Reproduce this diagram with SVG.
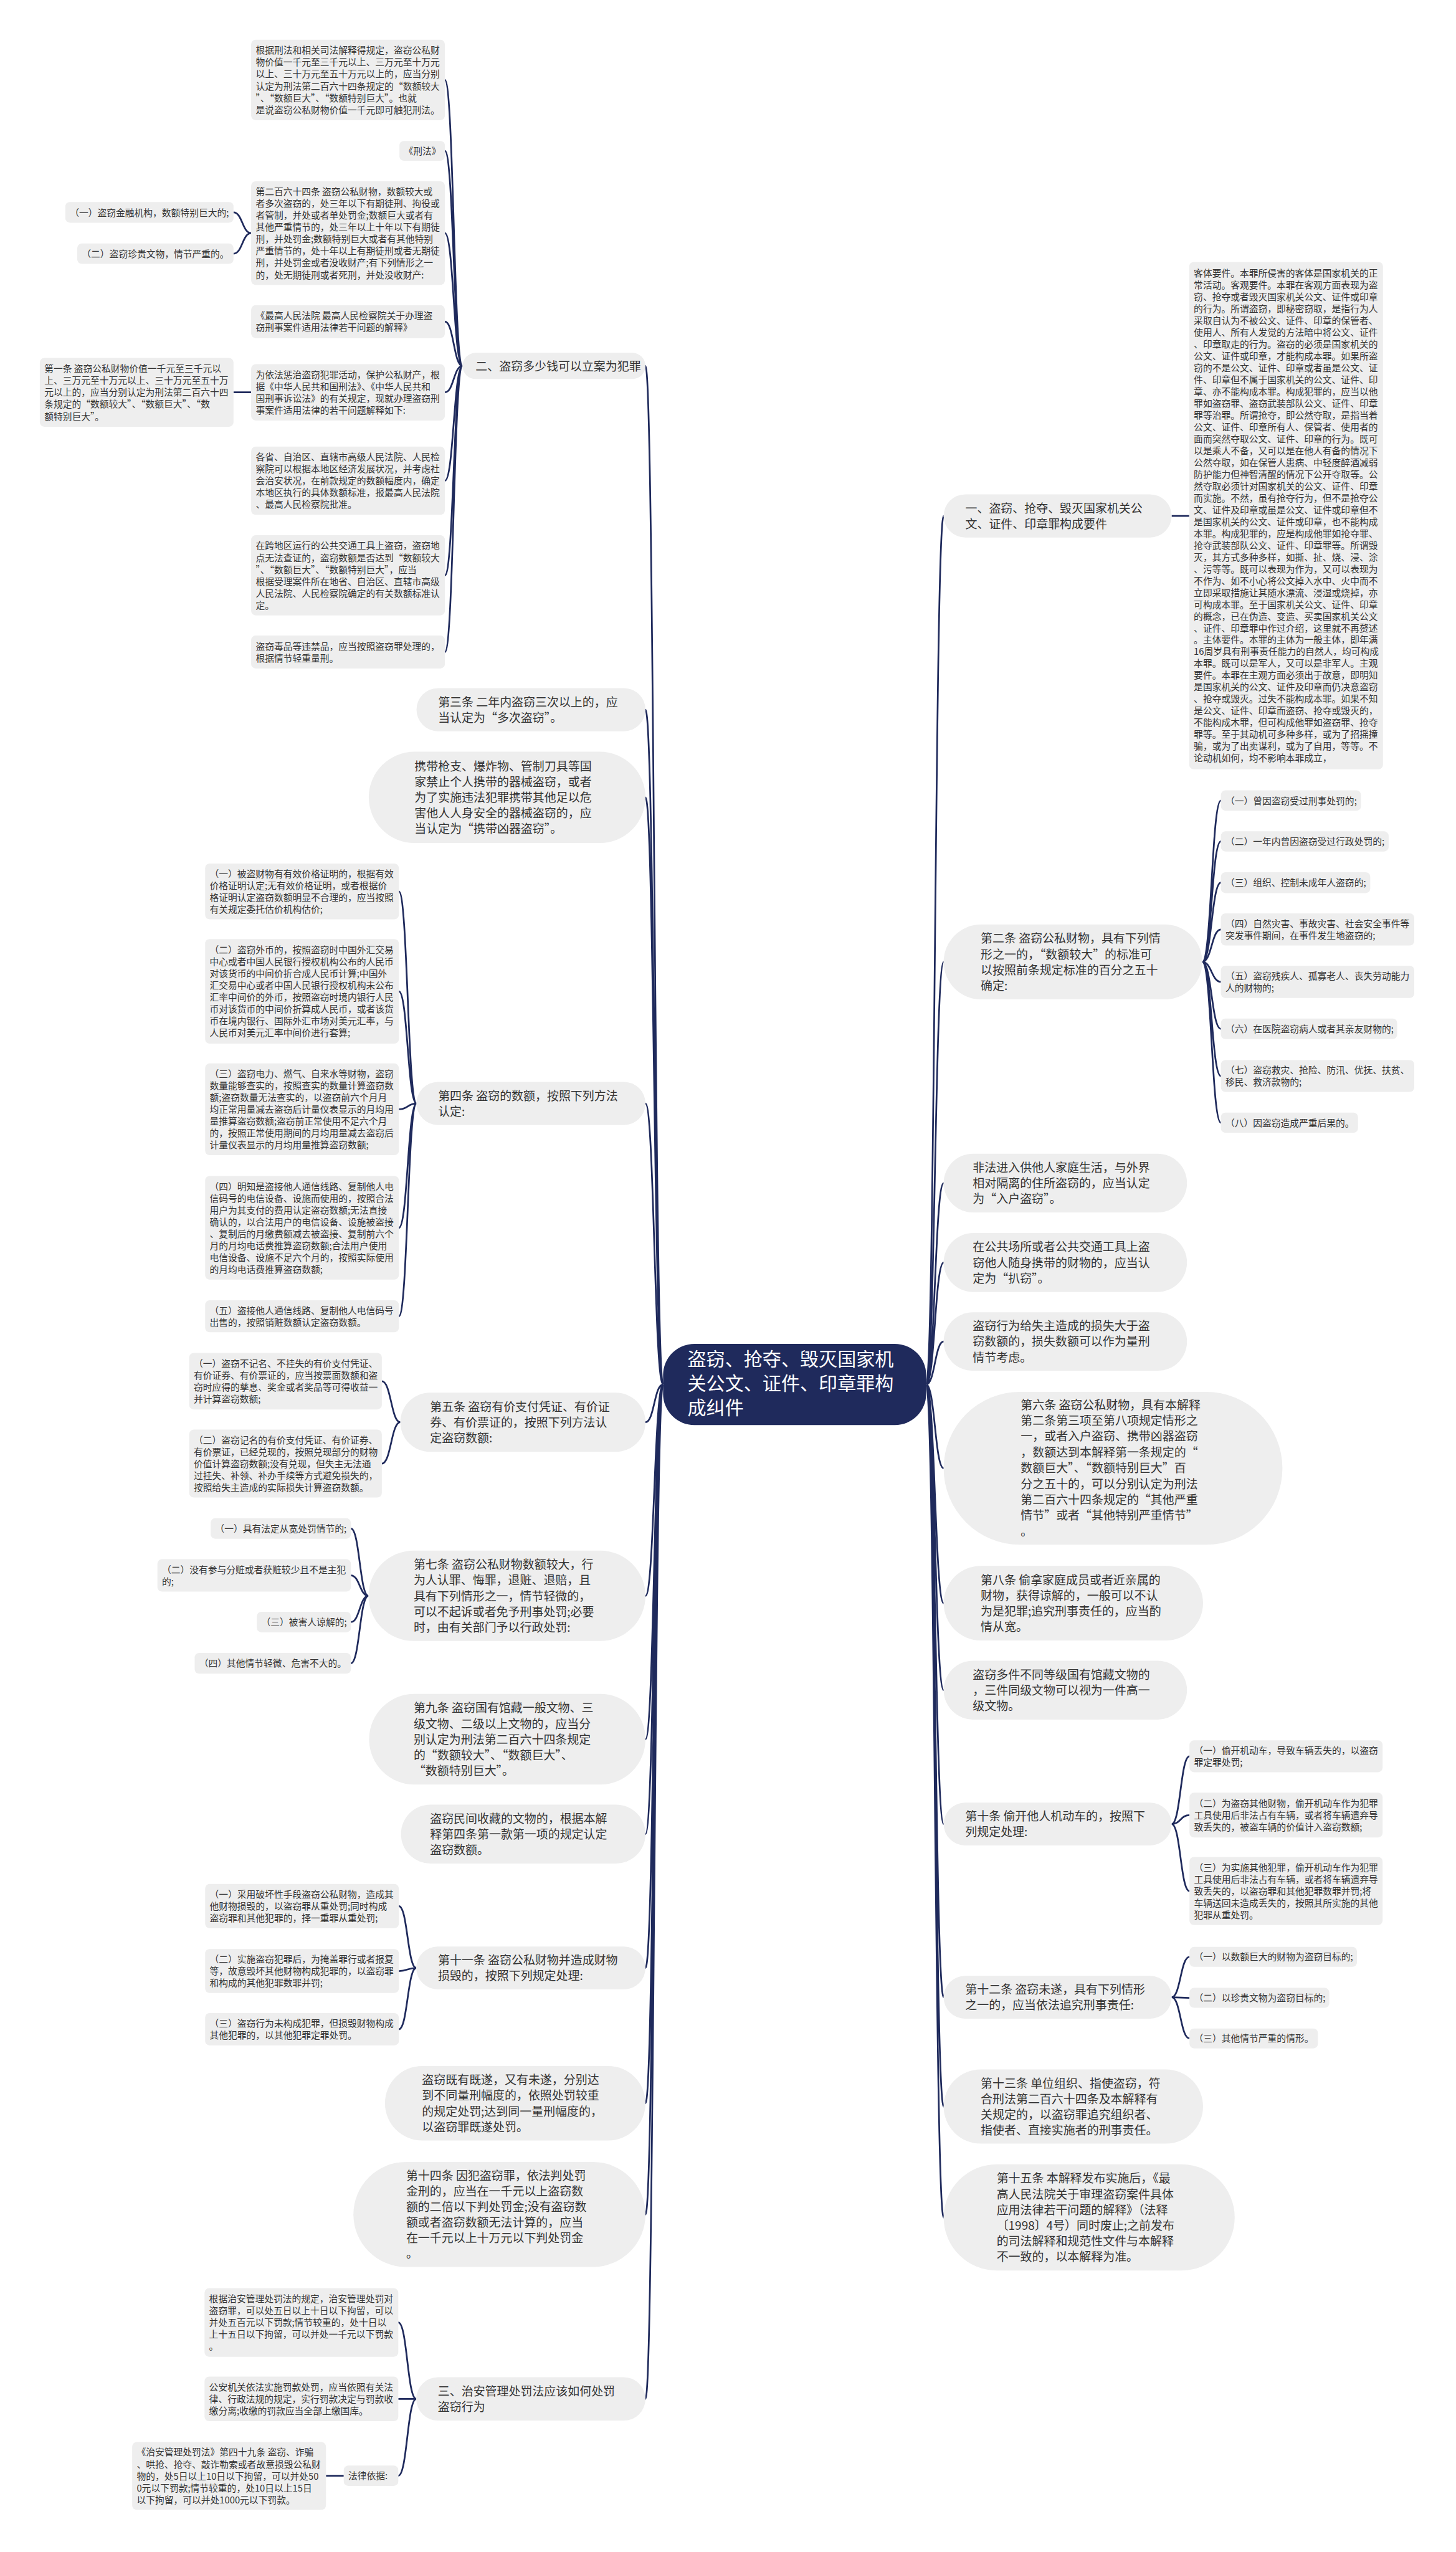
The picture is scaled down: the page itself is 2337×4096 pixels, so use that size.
<svg xmlns="http://www.w3.org/2000/svg" width="2337" height="4096" viewBox="0 0 2337 4096">
<style>
text{font-family:"Noto Sans CJK SC","Noto Sans",sans-serif;fill:#333333}
.s{font-size:16.2px}
.m{font-size:20.8px}
.c{font-size:33px;fill:#ffffff}
.b{fill:#eeeeee}
.ln{fill:none;stroke:#1f2a5c;stroke-width:3}
</style>
<rect width="2337" height="4096" fill="#ffffff"/>
<g transform="scale(0.912)">
<g id="connectors">
<path class="ln" d="M1167,2436.5 C1151.5,2436.5 1151.5,644 1136,644 M1167,2436.5 C1151.5,2436.5 1151.5,1249 1136,1249 M1167,2436.5 C1151.5,2436.5 1151.5,1403.3 1136,1403.3 M1167,2436.5 C1151.5,2436.5 1151.5,1942 1136,1942 M1167,2436.5 C1151.5,2436.5 1151.5,2503 1136,2503 M1167,2436.5 C1151.5,2436.5 1151.5,2808.5 1136,2808.5 M1167,2436.5 C1151.5,2436.5 1151.5,3060.9 1136,3060.9 M1167,2436.5 C1151.5,2436.5 1151.5,3227.8 1136,3227.8 M1167,2436.5 C1151.5,2436.5 1151.5,3463.4 1136,3463.4 M1167,2436.5 C1151.5,2436.5 1151.5,3701.5 1136,3701.5 M1167,2436.5 C1151.5,2436.5 1151.5,3897.2 1136,3897.2 M1167,2436.5 C1151.5,2436.5 1151.5,4221.8 1136,4221.8"/>
<path class="ln" d="M1630,2436.5 C1645.4,2436.5 1645.4,908 1660.8,908 M1630,2436.5 C1645.4,2436.5 1645.4,1692.9 1660.8,1692.9 M1630,2436.5 C1645.4,2436.5 1645.4,2082.1 1660.8,2082.1 M1630,2436.5 C1645.4,2436.5 1645.4,2221.9 1660.8,2221.9 M1630,2436.5 C1645.4,2436.5 1645.4,2361 1660.8,2361 M1630,2436.5 C1645.4,2436.5 1645.4,2584 1660.8,2584 M1630,2436.5 C1645.4,2436.5 1645.4,2821.4 1660.8,2821.4 M1630,2436.5 C1645.4,2436.5 1645.4,2974.5 1660.8,2974.5 M1630,2436.5 C1645.4,2436.5 1645.4,3210.1 1660.8,3210.1 M1630,2436.5 C1645.4,2436.5 1645.4,3515 1660.8,3515 M1630,2436.5 C1645.4,2436.5 1645.4,3707.3 1660.8,3707.3 M1630,2436.5 C1645.4,2436.5 1645.4,3902.5 1660.8,3902.5"/>
<path class="ln" d="M814,644 C798.5,644 798.5,140.8 783,140.8 M814,644 C798.5,644 798.5,265.5 783,265.5 M814,644 C798.5,644 798.5,410.3 783,410.3 M814,644 C798.5,644 798.5,566 783,566 M814,644 C798.5,644 798.5,690.5 783,690.5 M814,644 C798.5,644 798.5,846 783,846 M814,644 C798.5,644 798.5,1012.5 783,1012.5 M814,644 C798.5,644 798.5,1147.5 783,1147.5"/>
<path class="ln" d="M442,410.3 C426.5,410.3 426.5,373.8 411,373.8 M442,410.3 C426.5,410.3 426.5,446.5 411,446.5 M442,690.5 L411,690.5"/>
<path class="ln" d="M733,1942 C717.5,1942 717.5,1568.8 702,1568.8 M733,1942 C717.5,1942 717.5,1744.7 702,1744.7 M733,1942 C717.5,1942 717.5,1952.3 702,1952.3 M733,1942 C717.5,1942 717.5,2160.8 702,2160.8 M733,1942 C717.5,1942 717.5,2316.6 702,2316.6"/>
<path class="ln" d="M704.6,2503 C688.3,2503 688.3,2430.8 672,2430.8 M704.6,2503 C688.3,2503 688.3,2575.8 672,2575.8"/>
<path class="ln" d="M648.5,2808.5 C633,2808.5 633,2690 617.6,2690 M648.5,2808.5 C633,2808.5 633,2772.5 617.6,2772.5 M648.5,2808.5 C633,2808.5 633,2854.6 617.6,2854.6 M648.5,2808.5 C633,2808.5 633,2927.3 617.6,2927.3"/>
<path class="ln" d="M732.6,3463.4 C717.3,3463.4 717.3,3354.6 702,3354.6 M732.6,3463.4 C717.3,3463.4 717.3,3468.8 702,3468.8 M732.6,3463.4 C717.3,3463.4 717.3,3571.2 702,3571.2"/>
<path class="ln" d="M732.6,4221.8 C716.8,4221.8 716.8,4087.4 701,4087.4 M732.6,4221.8 C716.8,4221.8 716.8,4221.8 701,4221.8 M732.6,4221.8 C716.8,4221.8 716.8,4357 701,4357 M605,4357 L573.7,4357"/>
<path class="ln" d="M2062,908 L2093,908"/>
<path class="ln" d="M2116,1692.9 C2132.4,1692.9 2132.4,1408.9 2148.7,1408.9 M2116,1692.9 C2132.4,1692.9 2132.4,1480.8 2148.7,1480.8 M2116,1692.9 C2132.4,1692.9 2132.4,1553.4 2148.7,1553.4 M2116,1692.9 C2132.4,1692.9 2132.4,1635.7 2148.7,1635.7 M2116,1692.9 C2132.4,1692.9 2132.4,1728 2148.7,1728 M2116,1692.9 C2132.4,1692.9 2132.4,1810.6 2148.7,1810.6 M2116,1692.9 C2132.4,1692.9 2132.4,1893.7 2148.7,1893.7 M2116,1692.9 C2132.4,1692.9 2132.4,1975.9 2148.7,1975.9"/>
<path class="ln" d="M2062,3210.1 C2077.7,3210.1 2077.7,3090.9 2093.4,3090.9 M2062,3210.1 C2077.7,3210.1 2077.7,3194.4 2093.4,3194.4 M2062,3210.1 C2077.7,3210.1 2077.7,3328 2093.4,3328"/>
<path class="ln" d="M2062,3515 C2077.7,3515 2077.7,3443.9 2093.4,3443.9 M2062,3515 C2077.7,3515 2077.7,3516 2093.4,3516 M2062,3515 C2077.7,3515 2077.7,3587.4 2093.4,3587.4"/>
</g>

<g id="center">
<rect x="1167" y="2365" width="463" height="143" rx="55" fill="#1f2a5c"/>
<text class="c" x="1210" y="2403.5"><tspan x="1210">盗窃、抢夺、毁灭国家机</tspan><tspan x="1210" dy="43">关公文、证件、印章罪构</tspan><tspan x="1210" dy="43">成纠件</tspan></text>
</g>

<g id="n-er">
<rect class="b" x="814" y="621" width="322" height="46" rx="23"/>
<text class="m" x="837" y="651.9">二、盗窃多少钱可以立案为犯罪</text>
</g>
<g id="n-er-a">
<rect class="b" x="442" y="70" width="341" height="141.5" rx="8"/>
<text class="s" x="450" y="94.7"><tspan x="450">根据刑法和相关司法解释得规定，盗窃公私财</tspan><tspan x="450" dy="20.9">物价值一千元至三千元以上、三万元至十万元</tspan><tspan x="450" dy="20.9">以上、三十万元至五十万元以上的，应当分别</tspan><tspan x="450" dy="20.9">认定为刑法第二百六十四条规定的“数额较大</tspan><tspan x="450" dy="20.9">”、“数额巨大”、“数额特别巨大”。也就</tspan><tspan x="450" dy="20.9">是说盗窃公私财物价值一千元即可触犯刑法。</tspan></text>
</g>
<g id="n-er-b">
<rect class="b" x="703" y="248" width="80" height="35" rx="8"/>
<text class="s" x="711" y="271.7">《刑法》</text>
</g>
<g id="n-er-c">
<rect class="b" x="442" y="319" width="341" height="182.5" rx="8"/>
<text class="s" x="450" y="343.3"><tspan x="450">第二百六十四条 盗窃公私财物，数额较大或</tspan><tspan x="450" dy="20.9">者多次盗窃的，处三年以下有期徒刑、拘役或</tspan><tspan x="450" dy="20.9">者管制，并处或者单处罚金;数额巨大或者有</tspan><tspan x="450" dy="20.9">其他严重情节的，处三年以上十年以下有期徒</tspan><tspan x="450" dy="20.9">刑，并处罚金;数额特别巨大或者有其他特别</tspan><tspan x="450" dy="20.9">严重情节的，处十年以上有期徒刑或者无期徒</tspan><tspan x="450" dy="20.9">刑，并处罚金或者没收财产;有下列情形之一</tspan><tspan x="450" dy="20.9">的，处无期徒刑或者死刑，并处没收财产:</tspan></text>
</g>
<g id="n-er-c1">
<rect class="b" x="115" y="355.5" width="296" height="36.5" rx="8"/>
<text class="s" x="123" y="380">（一）盗窃金融机构，数额特别巨大的;</text>
</g>
<g id="n-er-c2">
<rect class="b" x="136" y="428.5" width="275" height="36" rx="8"/>
<text class="s" x="144" y="452.7">（二）盗窃珍贵文物，情节严重的。</text>
</g>
<g id="n-er-d">
<rect class="b" x="442" y="537" width="341" height="58" rx="8"/>
<text class="s" x="450" y="561.8"><tspan x="450">《最高人民法院 最高人民检察院关于办理盗</tspan><tspan x="450" dy="20.9">窃刑事案件适用法律若干问题的解释》</tspan></text>
</g>
<g id="n-er-e">
<rect class="b" x="442" y="641" width="341" height="99" rx="8"/>
<text class="s" x="450" y="665.4"><tspan x="450">为依法惩治盗窃犯罪活动，保护公私财产，根</tspan><tspan x="450" dy="20.9">据《中华人民共和国刑法》、《中华人民共和</tspan><tspan x="450" dy="20.9">国刑事诉讼法》的有关规定，现就办理盗窃刑</tspan><tspan x="450" dy="20.9">事案件适用法律的若干问题解释如下:</tspan></text>
</g>
<g id="n-er-e1">
<rect class="b" x="70" y="630" width="341" height="121" rx="8"/>
<text class="s" x="78" y="654.9"><tspan x="78">第一条 盗窃公私财物价值一千元至三千元以</tspan><tspan x="78" dy="20.9">上、三万元至十万元以上、三十万元至五十万</tspan><tspan x="78" dy="20.9">元以上的，应当分别认定为刑法第二百六十四</tspan><tspan x="78" dy="20.9">条规定的“数额较大”、“数额巨大”、“数</tspan><tspan x="78" dy="20.9">额特别巨大”。</tspan></text>
</g>
<g id="n-er-f">
<rect class="b" x="442" y="786" width="341" height="120" rx="8"/>
<text class="s" x="450" y="810.4"><tspan x="450">各省、自治区、直辖市高级人民法院、人民检</tspan><tspan x="450" dy="20.9">察院可以根据本地区经济发展状况，并考虑社</tspan><tspan x="450" dy="20.9">会治安状况，在前款规定的数额幅度内，确定</tspan><tspan x="450" dy="20.9">本地区执行的具体数额标准，报最高人民法院</tspan><tspan x="450" dy="20.9">、最高人民检察院批准。</tspan></text>
</g>
<g id="n-er-g">
<rect class="b" x="442" y="942" width="341" height="141" rx="8"/>
<text class="s" x="450" y="966.5"><tspan x="450">在跨地区运行的公共交通工具上盗窃，盗窃地</tspan><tspan x="450" dy="20.9">点无法查证的，盗窃数额是否达到“数额较大</tspan><tspan x="450" dy="20.9">”、“数额巨大”、“数额特别巨大”，应当</tspan><tspan x="450" dy="20.9">根据受理案件所在地省、自治区、直辖市高级</tspan><tspan x="450" dy="20.9">人民法院、人民检察院确定的有关数额标准认</tspan><tspan x="450" dy="20.9">定。</tspan></text>
</g>
<g id="n-er-h">
<rect class="b" x="442" y="1118.5" width="341" height="58" rx="8"/>
<text class="s" x="450" y="1143.3"><tspan x="450">盗窃毒品等违禁品，应当按照盗窃罪处理的，</tspan><tspan x="450" dy="20.9">根据情节轻重量刑。</tspan></text>
</g>

<g id="n-3">
<rect class="b" x="733" y="1211" width="403" height="76" rx="38"/>
<text class="m" x="771" y="1243.1"><tspan x="771">第三条 二年内盗窃三次以上的，应</tspan><tspan x="771" dy="27.6">当认定为“多次盗窃”。</tspan></text>
</g>
<g id="n-xd">
<rect class="b" x="649" y="1323" width="487" height="160.6" rx="80.3"/>
<text class="m" x="729.5" y="1356"><tspan x="729.5">携带枪支、爆炸物、管制刀具等国</tspan><tspan x="729.5" dy="27.6">家禁止个人携带的器械盗窃，或者</tspan><tspan x="729.5" dy="27.6">为了实施违法犯罪携带其他足以危</tspan><tspan x="729.5" dy="27.6">害他人人身安全的器械盗窃的，应</tspan><tspan x="729.5" dy="27.6">当认定为“携带凶器盗窃”。</tspan></text>
</g>
<g id="n-4">
<rect class="b" x="733" y="1904" width="403" height="76" rx="38"/>
<text class="m" x="771" y="1936.1"><tspan x="771">第四条 盗窃的数额，按照下列方法</tspan><tspan x="771" dy="27.6">认定:</tspan></text>
</g>
<g id="n-4-1">
<rect class="b" x="361" y="1519.6" width="341" height="98.3" rx="8"/>
<text class="s" x="369" y="1543.6"><tspan x="369">（一）被盗财物有有效价格证明的，根据有效</tspan><tspan x="369" dy="20.9">价格证明认定;无有效价格证明，或者根据价</tspan><tspan x="369" dy="20.9">格证明认定盗窃数额明显不合理的，应当按照</tspan><tspan x="369" dy="20.9">有关规定委托估价机构估价;</tspan></text>
</g>
<g id="n-4-2">
<rect class="b" x="361" y="1652.6" width="341" height="184.1" rx="8"/>
<text class="s" x="369" y="1677.7"><tspan x="369">（二）盗窃外币的，按照盗窃时中国外汇交易</tspan><tspan x="369" dy="20.9">中心或者中国人民银行授权机构公布的人民币</tspan><tspan x="369" dy="20.9">对该货币的中间价折合成人民币计算;中国外</tspan><tspan x="369" dy="20.9">汇交易中心或者中国人民银行授权机构未公布</tspan><tspan x="369" dy="20.9">汇率中间价的外币，按照盗窃时境内银行人民</tspan><tspan x="369" dy="20.9">币对该货币的中间价折算成人民币，或者该货</tspan><tspan x="369" dy="20.9">币在境内银行、国际外汇市场对美元汇率，与</tspan><tspan x="369" dy="20.9">人民币对美元汇率中间价进行套算;</tspan></text>
</g>
<g id="n-4-3">
<rect class="b" x="361" y="1871.5" width="341" height="161.5" rx="8"/>
<text class="s" x="369" y="1895.8"><tspan x="369">（三）盗窃电力、燃气、自来水等财物，盗窃</tspan><tspan x="369" dy="20.9">数量能够查实的，按照查实的数量计算盗窃数</tspan><tspan x="369" dy="20.9">额;盗窃数量无法查实的，以盗窃前六个月月</tspan><tspan x="369" dy="20.9">均正常用量减去盗窃后计量仪表显示的月均用</tspan><tspan x="369" dy="20.9">量推算盗窃数额;盗窃前正常使用不足六个月</tspan><tspan x="369" dy="20.9">的，按照正常使用期间的月均用量减去盗窃后</tspan><tspan x="369" dy="20.9">计量仪表显示的月均用量推算盗窃数额;</tspan></text>
</g>
<g id="n-4-4">
<rect class="b" x="361" y="2069.6" width="341" height="182.4" rx="8"/>
<text class="s" x="369" y="2093.9"><tspan x="369">（四）明知是盗接他人通信线路、复制他人电</tspan><tspan x="369" dy="20.9">信码号的电信设备、设施而使用的，按照合法</tspan><tspan x="369" dy="20.9">用户为其支付的费用认定盗窃数额;无法直接</tspan><tspan x="369" dy="20.9">确认的，以合法用户的电信设备、设施被盗接</tspan><tspan x="369" dy="20.9">、复制后的月缴费额减去被盗接、复制前六个</tspan><tspan x="369" dy="20.9">月的月均电话费推算盗窃数额;合法用户使用</tspan><tspan x="369" dy="20.9">电信设备、设施不足六个月的，按照实际使用</tspan><tspan x="369" dy="20.9">的月均电话费推算盗窃数额;</tspan></text>
</g>
<g id="n-4-5">
<rect class="b" x="361" y="2288.5" width="341" height="56.1" rx="8"/>
<text class="s" x="369" y="2312.3"><tspan x="369">（五）盗接他人通信线路、复制他人电信码号</tspan><tspan x="369" dy="20.9">出售的，按照销赃数额认定盗窃数额。</tspan></text>
</g>

<g id="n-5">
<rect class="b" x="704.6" y="2451" width="431.4" height="104" rx="52"/>
<text class="m" x="756.8" y="2483.3"><tspan x="756.8">第五条 盗窃有价支付凭证、有价证</tspan><tspan x="756.8" dy="27.6">券、有价票证的，按照下列方法认</tspan><tspan x="756.8" dy="27.6">定盗窃数额:</tspan></text>
</g>
<g id="n-5-1">
<rect class="b" x="333" y="2381" width="339" height="99.5" rx="8"/>
<text class="s" x="341" y="2405.6"><tspan x="341">（一）盗窃不记名、不挂失的有价支付凭证、</tspan><tspan x="341" dy="20.9">有价证券、有价票证的，应当按票面数额和盗</tspan><tspan x="341" dy="20.9">窃时应得的孳息、奖金或者奖品等可得收益一</tspan><tspan x="341" dy="20.9">并计算盗窃数额;</tspan></text>
</g>
<g id="n-5-2">
<rect class="b" x="333" y="2516" width="339" height="119.5" rx="8"/>
<text class="s" x="341" y="2540.2"><tspan x="341">（二）盗窃记名的有价支付凭证、有价证券、</tspan><tspan x="341" dy="20.9">有价票证，已经兑现的，按照兑现部分的财物</tspan><tspan x="341" dy="20.9">价值计算盗窃数额;没有兑现，但失主无法通</tspan><tspan x="341" dy="20.9">过挂失、补领、补办手续等方式避免损失的，</tspan><tspan x="341" dy="20.9">按照给失主造成的实际损失计算盗窃数额。</tspan></text>
</g>

<g id="n-7">
<rect class="b" x="648.5" y="2729" width="487.5" height="159" rx="79.5"/>
<text class="m" x="728" y="2761.2"><tspan x="728">第七条 盗窃公私财物数额较大，行</tspan><tspan x="728" dy="27.6">为人认罪、悔罪，退赃、退赔，且</tspan><tspan x="728" dy="27.6">具有下列情形之一，情节轻微的，</tspan><tspan x="728" dy="27.6">可以不起诉或者免予刑事处罚;必要</tspan><tspan x="728" dy="27.6">时，由有关部门予以行政处罚:</tspan></text>
</g>
<g id="n-7-1">
<rect class="b" x="370.7" y="2672" width="246.9" height="36" rx="8"/>
<text class="s" x="378.7" y="2696.2">（一）具有法定从宽处罚情节的;</text>
</g>
<g id="n-7-2">
<rect class="b" x="277" y="2744" width="340.6" height="57" rx="8"/>
<text class="s" x="285" y="2768.3"><tspan x="285">（二）没有参与分赃或者获赃较少且不是主犯</tspan><tspan x="285" dy="20.9">的;</tspan></text>
</g>
<g id="n-7-3">
<rect class="b" x="452" y="2836.5" width="165.6" height="36.3" rx="8"/>
<text class="s" x="460" y="2860.8">（三）被害人谅解的;</text>
</g>
<g id="n-7-4">
<rect class="b" x="342.6" y="2909" width="275" height="36.5" rx="8"/>
<text class="s" x="350.6" y="2933.5">（四）其他情节轻微、危害不大的。</text>
</g>

<g id="n-9">
<rect class="b" x="649.6" y="2981" width="486.4" height="159.7" rx="79.8"/>
<text class="m" x="728" y="3013.6"><tspan x="728">第九条 盗窃国有馆藏一般文物、三</tspan><tspan x="728" dy="27.6">级文物、二级以上文物的，应当分</tspan><tspan x="728" dy="27.6">别认定为刑法第二百六十四条规定</tspan><tspan x="728" dy="27.6">的“数额较大”、“数额巨大”、</tspan><tspan x="728" dy="27.6">“数额特别巨大”。</tspan></text>
</g>
<g id="n-mj">
<rect class="b" x="705.7" y="3176" width="430.3" height="103.5" rx="51.7"/>
<text class="m" x="756.8" y="3208.1"><tspan x="756.8">盗窃民间收藏的文物的，根据本解</tspan><tspan x="756.8" dy="27.6">释第四条第一款第一项的规定认定</tspan><tspan x="756.8" dy="27.6">盗窃数额。</tspan></text>
</g>
<g id="n-11">
<rect class="b" x="732.6" y="3425.8" width="403.4" height="75.2" rx="37.6"/>
<text class="m" x="770.8" y="3457.5"><tspan x="770.8">第十一条 盗窃公私财物并造成财物</tspan><tspan x="770.8" dy="27.6">损毁的，按照下列规定处理:</tspan></text>
</g>
<g id="n-11-1">
<rect class="b" x="361" y="3315.6" width="341" height="77.9" rx="8"/>
<text class="s" x="369" y="3339.9"><tspan x="369">（一）采用破坏性手段盗窃公私财物，造成其</tspan><tspan x="369" dy="20.9">他财物损毁的，以盗窃罪从重处罚;同时构成</tspan><tspan x="369" dy="20.9">盗窃罪和其他犯罪的，择一重罪从重处罚;</tspan></text>
</g>
<g id="n-11-2">
<rect class="b" x="361" y="3430" width="341" height="77.5" rx="8"/>
<text class="s" x="369" y="3454.1"><tspan x="369">（二）实施盗窃犯罪后，为掩盖罪行或者报复</tspan><tspan x="369" dy="20.9">等，故意毁坏其他财物构成犯罪的，以盗窃罪</tspan><tspan x="369" dy="20.9">和构成的其他犯罪数罪并罚;</tspan></text>
</g>
<g id="n-11-3">
<rect class="b" x="361" y="3542.7" width="341" height="57" rx="8"/>
<text class="s" x="369" y="3567"><tspan x="369">（三）盗窃行为未构成犯罪，但损毁财物构成</tspan><tspan x="369" dy="20.9">其他犯罪的，以其他犯罪定罪处罚。</tspan></text>
</g>

<g id="n-js">
<rect class="b" x="677.5" y="3636" width="458.5" height="131" rx="65.5"/>
<text class="m" x="742.7" y="3668"><tspan x="742.7">盗窃既有既遂，又有未遂，分别达</tspan><tspan x="742.7" dy="27.6">到不同量刑幅度的，依照处罚较重</tspan><tspan x="742.7" dy="27.6">的规定处罚;达到同一量刑幅度的，</tspan><tspan x="742.7" dy="27.6">以盗窃罪既遂处罚。</tspan></text>
</g>
<g id="n-14">
<rect class="b" x="622" y="3804.8" width="514" height="184.8" rx="92.4"/>
<text class="m" x="714.8" y="3836.1"><tspan x="714.8">第十四条 因犯盗窃罪，依法判处罚</tspan><tspan x="714.8" dy="27.6">金刑的，应当在一千元以上盗窃数</tspan><tspan x="714.8" dy="27.6">额的二倍以下判处罚金;没有盗窃数</tspan><tspan x="714.8" dy="27.6">额或者盗窃数额无法计算的，应当</tspan><tspan x="714.8" dy="27.6">在一千元以上十万元以下判处罚金</tspan><tspan x="714.8" dy="27.6">。</tspan></text>
</g>
<g id="n-san">
<rect class="b" x="732.6" y="4183.6" width="403.4" height="76.4" rx="38.2"/>
<text class="m" x="770.6" y="4215.9"><tspan x="770.6">三、治安管理处罚法应该如何处罚</tspan><tspan x="770.6" dy="27.6">盗窃行为</tspan></text>
</g>
<g id="n-san-1">
<rect class="b" x="360" y="4027" width="341" height="120.7" rx="8"/>
<text class="s" x="368" y="4051.8"><tspan x="368">根据治安管理处罚法的规定，治安管理处罚对</tspan><tspan x="368" dy="20.9">盗窃罪，可以处五日以上十日以下拘留，可以</tspan><tspan x="368" dy="20.9">并处五百元以下罚款;情节较重的，处十日以</tspan><tspan x="368" dy="20.9">上十五日以下拘留，可以并处一千元以下罚款</tspan><tspan x="368" dy="20.9">。</tspan></text>
</g>
<g id="n-san-2">
<rect class="b" x="360" y="4182.5" width="341" height="78.5" rx="8"/>
<text class="s" x="368" y="4207.1"><tspan x="368">公安机关依法实施罚款处罚，应当依照有关法</tspan><tspan x="368" dy="20.9">律、行政法规的规定，实行罚款决定与罚款收</tspan><tspan x="368" dy="20.9">缴分离;收缴的罚款应当全部上缴国库。</tspan></text>
</g>
<g id="n-san-3">
<rect class="b" x="605" y="4339" width="96" height="36" rx="8"/>
<text class="s" x="613" y="4363.2">法律依据:</text>
</g>
<g id="n-san-3-1">
<rect class="b" x="232.6" y="4297.7" width="341.1" height="119.3" rx="8"/>
<text class="s" x="240.6" y="4321.8"><tspan x="240.6">《治安管理处罚法》第四十九条 盗窃、诈骗</tspan><tspan x="240.6" dy="20.9">、哄抢、抢夺、敲诈勒索或者故意损毁公私财</tspan><tspan x="240.6" dy="20.9">物的，处5日以上10日以下拘留，可以并处50</tspan><tspan x="240.6" dy="20.9">0元以下罚款;情节较重的，处10日以上15日</tspan><tspan x="240.6" dy="20.9">以下拘留，可以并处1000元以下罚款。</tspan></text>
</g>

<g id="n-yi">
<rect class="b" x="1660.8" y="870" width="401.2" height="76" rx="38"/>
<text class="m" x="1699" y="902.1"><tspan x="1699">一、盗窃、抢夺、毁灭国家机关公</tspan><tspan x="1699" dy="27.6">文、证件、印章罪构成要件</tspan></text>
</g>
<g id="n-yi-1">
<rect class="b" x="2093" y="461" width="341" height="893" rx="8"/>
<text class="s" x="2101" y="487.3"><tspan x="2101">客体要件。本罪所侵害的客体是国家机关的正</tspan><tspan x="2101" dy="20.8">常活动。客观要件。本罪在客观方面表现为盗</tspan><tspan x="2101" dy="20.8">窃、抢夺或者毁灭国家机关公文、证件或印章</tspan><tspan x="2101" dy="20.8">的行为。所谓盗窃，即秘密窃取，是指行为人</tspan><tspan x="2101" dy="20.8">采取自认为不被公文、证件、印章的保管者、</tspan><tspan x="2101" dy="20.8">使用人、所有人发觉的方法暗中将公文、证件</tspan><tspan x="2101" dy="20.8">、印章取走的行为。盗窃的必须是国家机关的</tspan><tspan x="2101" dy="20.8">公文、证件或印章，才能构成本罪。如果所盗</tspan><tspan x="2101" dy="20.8">窃的不是公文、证件、印章或者虽是公文、证</tspan><tspan x="2101" dy="20.8">件、印章但不属于国家机关的公文、证件、印</tspan><tspan x="2101" dy="20.8">章、亦不能构成本罪。构成犯罪的，应当以他</tspan><tspan x="2101" dy="20.8">罪如盗窃罪、盗窃武装部队公文、证件、印章</tspan><tspan x="2101" dy="20.8">罪等治罪。所谓抢夺，即公然夺取，是指当着</tspan><tspan x="2101" dy="20.8">公文、证件、印章所有人、保管者、使用者的</tspan><tspan x="2101" dy="20.8">面而突然夺取公文、证件、印章的行为。既可</tspan><tspan x="2101" dy="20.8">以是乘人不备，又可以是在他人有备的情况下</tspan><tspan x="2101" dy="20.8">公然夺取，如在保管人患病、中轻度醉酒减弱</tspan><tspan x="2101" dy="20.8">防护能力但神智清醒的情况下公开夺取等。公</tspan><tspan x="2101" dy="20.8">然夺取必须针对国家机关的公文、证件、印章</tspan><tspan x="2101" dy="20.8">而实施。不然，虽有抢夺行为，但不是抢夺公</tspan><tspan x="2101" dy="20.8">文、证件及印章或虽是公文、证件或印章但不</tspan><tspan x="2101" dy="20.8">是国家机关的公文、证件或印章，也不能构成</tspan><tspan x="2101" dy="20.8">本罪。构成犯罪的，应是构成他罪如抢夺罪、</tspan><tspan x="2101" dy="20.8">抢夺武装部队公文、证件、印章罪等。所谓毁</tspan><tspan x="2101" dy="20.8">灭，其方式多种多样，如撕、扯、烧、浸、涂</tspan><tspan x="2101" dy="20.8">、污等等。既可以表现为作为，又可以表现为</tspan><tspan x="2101" dy="20.8">不作为、如不小心将公文掉入水中、火中而不</tspan><tspan x="2101" dy="20.8">立即采取措施让其随水漂流、浸湿或烧掉，亦</tspan><tspan x="2101" dy="20.8">可构成本罪。至于国家机关公文、证件、印章</tspan><tspan x="2101" dy="20.8">的概念，已在伪造、变造、买卖国家机关公文</tspan><tspan x="2101" dy="20.8">、证件、印章罪中作过介绍，这里就不再赘述</tspan><tspan x="2101" dy="20.8">。主体要件。本罪的主体为一般主体，即年满</tspan><tspan x="2101" dy="20.8">16周岁具有刑事责任能力的自然人，均可构成</tspan><tspan x="2101" dy="20.8">本罪。既可以是军人，又可以是非军人。主观</tspan><tspan x="2101" dy="20.8">要件。本罪在主观方面必须出于故意，即明知</tspan><tspan x="2101" dy="20.8">是国家机关的公文、证件及印章而仍决意盗窃</tspan><tspan x="2101" dy="20.8">、抢夺或毁灭。过失不能构成本罪。如果不知</tspan><tspan x="2101" dy="20.8">是公文、证件、印章而盗窃、抢夺或毁灭的，</tspan><tspan x="2101" dy="20.8">不能构成木罪，但可构成他罪如盗窃罪、抢夺</tspan><tspan x="2101" dy="20.8">罪等。至于其动机可多种多样，或为了招摇撞</tspan><tspan x="2101" dy="20.8">骗，或为了出卖谋利，或为了自用，等等。不</tspan><tspan x="2101" dy="20.8">论动机如何，均不影响本罪成立，</tspan></text>
</g>

<g id="n-2">
<rect class="b" x="1660.8" y="1627" width="455.2" height="131.8" rx="65.9"/>
<text class="m" x="1726" y="1659.4"><tspan x="1726">第二条 盗窃公私财物，具有下列情</tspan><tspan x="1726" dy="27.6">形之一的，“数额较大”的标准可</tspan><tspan x="1726" dy="27.6">以按照前条规定标准的百分之五十</tspan><tspan x="1726" dy="27.6">确定:</tspan></text>
</g>
<g id="n-2-1"><rect class="b" x="2148.7" y="1391" width="246.7" height="35.7" rx="8"/><text class="s" x="2156.7" y="1415.1">（一）曾因盗窃受过刑事处罚的;</text></g>
<g id="n-2-2"><rect class="b" x="2148.7" y="1463" width="295.3" height="35.6" rx="8"/><text class="s" x="2156.7" y="1487">（二）一年内曾因盗窃受过行政处罚的;</text></g>
<g id="n-2-3"><rect class="b" x="2148.7" y="1535" width="262.9" height="36.8" rx="8"/><text class="s" x="2156.7" y="1559.6">（三）组织、控制未成年人盗窃的;</text></g>
<g id="n-2-4"><rect class="b" x="2148.7" y="1607.4" width="340.3" height="56.6" rx="8"/><text class="s" x="2156.7" y="1631.5"><tspan x="2156.7">（四）自然灾害、事故灾害、社会安全事件等</tspan><tspan x="2156.7" dy="20.9">突发事件期间，在事件发生地盗窃的;</tspan></text></g>
<g id="n-2-5"><rect class="b" x="2148.7" y="1699.5" width="340.3" height="56.9" rx="8"/><text class="s" x="2156.7" y="1723.7"><tspan x="2156.7">（五）盗窃残疾人、孤寡老人、丧失劳动能力</tspan><tspan x="2156.7" dy="20.9">人的财物的;</tspan></text></g>
<g id="n-2-6"><rect class="b" x="2148.7" y="1792.4" width="310.3" height="36.4" rx="8"/><text class="s" x="2156.7" y="1816.8">（六）在医院盗窃病人或者其亲友财物的;</text></g>
<g id="n-2-7"><rect class="b" x="2148.7" y="1865.6" width="340.3" height="56.1" rx="8"/><text class="s" x="2156.7" y="1889.4"><tspan x="2156.7">（七）盗窃救灾、抢险、防汛、优抚、扶贫、</tspan><tspan x="2156.7" dy="20.9">移民、救济款物的;</tspan></text></g>
<g id="n-2-8"><rect class="b" x="2148.7" y="1958" width="241.3" height="35.7" rx="8"/><text class="s" x="2156.7" y="1982.1">（八）因盗窃造成严重后果的。</text></g>

<g id="n-rh">
<rect class="b" x="1660.8" y="2030.4" width="428.2" height="103.4" rx="51.7"/>
<text class="m" x="1712" y="2062.4"><tspan x="1712">非法进入供他人家庭生活，与外界</tspan><tspan x="1712" dy="27.6">相对隔离的住所盗窃的，应当认定</tspan><tspan x="1712" dy="27.6">为“入户盗窃”。</tspan></text>
</g>
<g id="n-pq">
<rect class="b" x="1660.8" y="2170" width="428.2" height="103.8" rx="51.9"/>
<text class="m" x="1712" y="2202.2"><tspan x="1712">在公共场所或者公共交通工具上盗</tspan><tspan x="1712" dy="27.6">窃他人随身携带的财物的，应当认</tspan><tspan x="1712" dy="27.6">定为“扒窃”。</tspan></text>
</g>
<g id="n-ss">
<rect class="b" x="1660.8" y="2309.6" width="428.2" height="102.8" rx="51.4"/>
<text class="m" x="1712" y="2341.3"><tspan x="1712">盗窃行为给失主造成的损失大于盗</tspan><tspan x="1712" dy="27.6">窃数额的，损失数额可以作为量刑</tspan><tspan x="1712" dy="27.6">情节考虑。</tspan></text>
</g>
<g id="n-6">
<rect class="b" x="1660.8" y="2449.5" width="596.2" height="269.1" rx="134.5"/>
<text class="m" x="1796.4" y="2480"><tspan x="1796.4">第六条 盗窃公私财物，具有本解释</tspan><tspan x="1796.4" dy="27.8">第二条第三项至第八项规定情形之</tspan><tspan x="1796.4" dy="27.8">一，或者入户盗窃、携带凶器盗窃</tspan><tspan x="1796.4" dy="27.8">，数额达到本解释第一条规定的“</tspan><tspan x="1796.4" dy="27.8">数额巨大”、“数额特别巨大”百</tspan><tspan x="1796.4" dy="27.8">分之五十的，可以分别认定为刑法</tspan><tspan x="1796.4" dy="27.8">第二百六十四条规定的“其他严重</tspan><tspan x="1796.4" dy="27.8">情节”或者“其他特别严重情节”</tspan><tspan x="1796.4" dy="27.8">。</tspan></text>
</g>
<g id="n-8">
<rect class="b" x="1660.8" y="2755.8" width="456.5" height="131.2" rx="65.6"/>
<text class="m" x="1726" y="2787.9"><tspan x="1726">第八条 偷拿家庭成员或者近亲属的</tspan><tspan x="1726" dy="27.6">财物，获得谅解的，一般可以不认</tspan><tspan x="1726" dy="27.6">为是犯罪;追究刑事责任的，应当酌</tspan><tspan x="1726" dy="27.6">情从宽。</tspan></text>
</g>
<g id="n-dj">
<rect class="b" x="1660.8" y="2922.7" width="428.2" height="103.5" rx="51.7"/>
<text class="m" x="1712" y="2954.8"><tspan x="1712">盗窃多件不同等级国有馆藏文物的</tspan><tspan x="1712" dy="27.6">，三件同级文物可以视为一件高一</tspan><tspan x="1712" dy="27.6">级文物。</tspan></text>
</g>
<g id="n-10">
<rect class="b" x="1660.8" y="3172.5" width="401.2" height="75.2" rx="37.6"/>
<text class="m" x="1698.8" y="3204.2"><tspan x="1698.8">第十条 偷开他人机动车的，按照下</tspan><tspan x="1698.8" dy="27.6">列规定处理:</tspan></text>
</g>
<g id="n-10-1"><rect class="b" x="2093.4" y="3062.8" width="339.9" height="56.1" rx="8"/><text class="s" x="2101.4" y="3086.6"><tspan x="2101.4">（一）偷开机动车，导致车辆丢失的，以盗窃</tspan><tspan x="2101.4" dy="20.9">罪定罪处罚;</tspan></text></g>
<g id="n-10-2"><rect class="b" x="2093.4" y="3155" width="339.9" height="78.7" rx="8"/><text class="s" x="2101.4" y="3179.7"><tspan x="2101.4">（二）为盗窃其他财物，偷开机动车作为犯罪</tspan><tspan x="2101.4" dy="20.9">工具使用后非法占有车辆，或者将车辆遗弃导</tspan><tspan x="2101.4" dy="20.9">致丢失的，被盗车辆的价值计入盗窃数额;</tspan></text></g>
<g id="n-10-3"><rect class="b" x="2093.4" y="3268" width="339.9" height="120" rx="8"/><text class="s" x="2101.4" y="3292.4"><tspan x="2101.4">（三）为实施其他犯罪，偷开机动车作为犯罪</tspan><tspan x="2101.4" dy="20.9">工具使用后非法占有车辆，或者将车辆遗弃导</tspan><tspan x="2101.4" dy="20.9">致丢失的，以盗窃罪和其他犯罪数罪并罚;将</tspan><tspan x="2101.4" dy="20.9">车辆送回未造成丢失的，按照其所实施的其他</tspan><tspan x="2101.4" dy="20.9">犯罪从重处罚。</tspan></text></g>
<g id="n-12">
<rect class="b" x="1660.8" y="3477.3" width="401.2" height="75.3" rx="37.6"/>
<text class="m" x="1698.8" y="3509.1"><tspan x="1698.8">第十二条 盗窃未遂，具有下列情形</tspan><tspan x="1698.8" dy="27.6">之一的，应当依法追究刑事责任:</tspan></text>
</g>
<g id="n-12-1"><rect class="b" x="2093.4" y="3426.3" width="294.9" height="35.1" rx="8"/><text class="s" x="2101.4" y="3450.1">（一）以数额巨大的财物为盗窃目标的;</text></g>
<g id="n-12-2"><rect class="b" x="2093.4" y="3498.4" width="246.1" height="35.1" rx="8"/><text class="s" x="2101.4" y="3522.2">（二）以珍贵文物为盗窃目标的;</text></g>
<g id="n-12-3"><rect class="b" x="2093.4" y="3569.8" width="226.1" height="35.1" rx="8"/><text class="s" x="2101.4" y="3593.6">（三）其他情节严重的情形。</text></g>
<g id="n-13">
<rect class="b" x="1660.8" y="3641.9" width="456.5" height="130.7" rx="65.3"/>
<text class="m" x="1726" y="3673.8"><tspan x="1726">第十三条 单位组织、指使盗窃，符</tspan><tspan x="1726" dy="27.6">合刑法第二百六十四条及本解释有</tspan><tspan x="1726" dy="27.6">关规定的，以盗窃罪追究组织者、</tspan><tspan x="1726" dy="27.6">指使者、直接实施者的刑事责任。</tspan></text>
</g>
<g id="n-15">
<rect class="b" x="1660.8" y="3809" width="512.2" height="186.9" rx="93.4"/>
<text class="m" x="1754" y="3841.4"><tspan x="1754">第十五条 本解释发布实施后，《最</tspan><tspan x="1754" dy="27.6">高人民法院关于审理盗窃案件具体</tspan><tspan x="1754" dy="27.6">应用法律若干问题的解释》（法释</tspan><tspan x="1754" dy="27.6">〔1998〕4号）同时废止;之前发布</tspan><tspan x="1754" dy="27.6">的司法解释和规范性文件与本解释</tspan><tspan x="1754" dy="27.6">不一致的，以本解释为准。</tspan></text>
</g>
</g>
</svg>
